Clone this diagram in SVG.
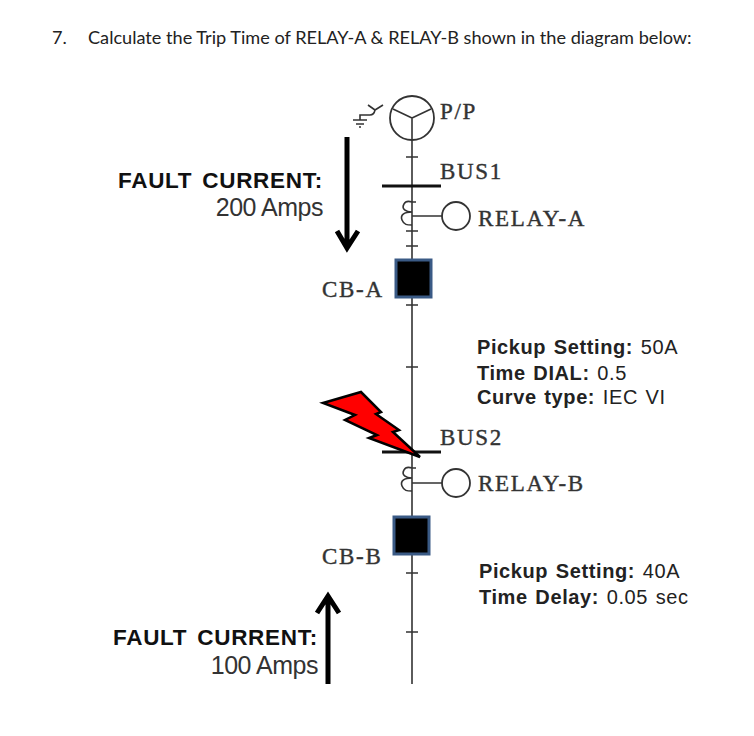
<svg xmlns="http://www.w3.org/2000/svg" width="754" height="736" viewBox="0 0 754 736">
<style>
text{font-family:"Liberation Sans",Arial,sans-serif;fill:#111}
.s{font-family:"Liberation Serif","Times New Roman",serif;font-size:23px;letter-spacing:1.7px;fill:#333;stroke:#333;stroke-width:.4}
.f{font-size:22.5px;font-weight:bold;letter-spacing:.7px;word-spacing:3px}
.a{font-size:25px;text-anchor:end;letter-spacing:-.5px;fill:#333}
.i{font-size:20px;letter-spacing:.6px;word-spacing:1.5px;fill:#222}
.b{font-weight:bold}
.w{fill:none;stroke:#333;stroke-width:1.6}
.t{stroke:#333;stroke-width:1.6;fill:none}
.bar{stroke:#111;stroke-width:3}
.ar{fill:none;stroke:#000;stroke-width:5}
.cb{fill:#000;stroke:#3a5a85;stroke-width:3}
</style>
<rect width="754" height="736" fill="#fff"/>
<text id="title" x="52" y="44" style="font-family:Lato,'Open Sans',sans-serif;font-size:18.15px;fill:#222">7.<tspan x="88">Calculate the Trip Time of RELAY-A &amp; RELAY-B shown in the diagram below:</tspan></text>
<g id="connectors">
<path class="t" d="M412 140V684"/>
<path class="t" d="M406 157h12M406 231h12M406 246h12M406 305h12M406 367h12M400 517h22M406 573h12M406 632h12"/>
<path class="t" d="M412 216H442M412 483H442"/>
<path class="w" d="M412 202q-6-2-8 2c-3 5 2 8 8 8c-8 0-12 3-10 8s5 5 10 5M416 202h-4"/>
<path class="w" d="M412 468q-6-2-8 2c-3 5 2 8 8 8c-8 0-12 3-10 8s5 5 10 5M416 468h-4"/>
<path class="w" d="M353 120h14M356 124h8M359 127h2M360 120v-5h10q4 0 5-5M375 110l-7-5M375 110l8-5"/>
<path class="ar" d="M347 137V247M337 231L347 248L358 231"/>
<path class="ar" d="M328 684V596M317 613L328 596L339 613"/>
</g>
<g id="pp"><circle cx="412" cy="118" r="22" fill="#fff" stroke="#333" stroke-width="1.8"/><path class="t" d="M412 118V140M412 118L393 109M412 118L431 109"/><text class="s" x="440" y="119">P/P</text></g>
<g id="bus1"><path class="bar" d="M382 186H441"/><text class="s" x="440" y="179">BUS1</text></g>
<g id="relay-a"><circle cx="456" cy="216" r="14" fill="#fff" stroke="#333" stroke-width="1.8"/><text class="s" x="478" y="226">RELAY-A</text></g>
<g id="cb-a"><rect class="cb" x="396" y="260" width="35" height="37"/><text class="s" x="322" y="297">CB-A</text></g>
<g id="bus2"><path class="bar" d="M382 452H441"/><text class="s" x="440" y="445">BUS2</text></g>
<g id="fault"><path d="M323 403L361 392L381 412L376 414L399 430L393 432L420 457L369 438L377 435L345 420L355 415Z" fill="#f00" stroke="#000" stroke-width="2.5"/></g>
<g id="relay-b"><circle cx="456" cy="483" r="14" fill="#fff" stroke="#333" stroke-width="1.8"/><text class="s" x="478" y="491">RELAY-B</text></g>
<g id="cb-b"><rect class="cb" x="394" y="517" width="35" height="37"/><text class="s" x="322" y="564">CB-B</text></g>
<g id="fault-a"><text class="f" x="118" y="188">FAULT CURRENT:</text><text class="a" x="323" y="216">200 Amps</text></g>
<g id="fault-b"><text class="f" x="113" y="645">FAULT CURRENT:</text><text class="a" x="318" y="674">100 Amps</text></g>
<g id="settings-a"><text class="i" x="477" y="354"><tspan class="b">Pickup Setting:</tspan> 50A</text><text class="i" x="477" y="380"><tspan class="b">Time DIAL:</tspan> 0.5</text><text class="i" x="477" y="404"><tspan class="b">Curve type:</tspan> IEC VI</text></g>
<g id="settings-b"><text class="i" x="479" y="578"><tspan class="b">Pickup Setting:</tspan> 40A</text><text class="i" x="479" y="604"><tspan class="b">Time Delay:</tspan> 0.05 sec</text></g>
</svg>
